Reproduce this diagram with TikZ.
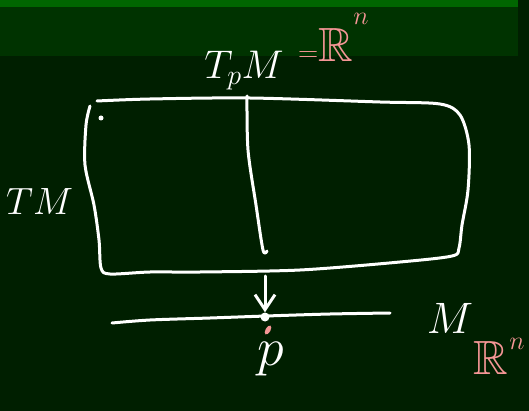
\RequirePackage{fix-cm}
\documentclass[tikz,border=0pt]{standalone}
\usepackage{amssymb}
\usetikzlibrary{arrows.meta,positioning}
\definecolor{boardgreen}{HTML}{001F00}
\definecolor{bargreen}{HTML}{003300}
\definecolor{tabgreen}{HTML}{006600}
\definecolor{chalkpink}{HTML}{F59696}

\begin{document}
\begin{tikzpicture}[
    x=1pt, y=-1pt,
    chalk/.style={draw=white, line width=3pt, line cap=round, line join=round},
    lbl/.style={text=white, inner sep=0pt, font=\fontsize{44}{50}\selectfont},
    pinklbl/.style={lbl, text=chalkpink, font=\fontsize{48}{54}\selectfont},
    explbl/.style={pinklbl, font=\fontsize{26}{30}\selectfont},
    arr/.style={chalk, -{Straight Barb[length=15pt, width=20pt]}},
    dot/.style={circle, fill=white, inner sep=0pt, minimum size=9pt}
]
\useasboundingbox (0,0) rectangle (529,411);

% --- board ---
\fill[boardgreen] (0,0) rectangle (529,411);
\fill[bargreen] (0,7) rectangle (518,56);
\fill[tabgreen] (0,0) rectangle (518,7);

% --- tangent bundle (box) ---
\draw[chalk] plot[smooth, tension=0.5] coordinates {
    (97,101) (150,99) (250,98) (380,102) (440,104) (460,115) (469,145)
    (468,190) (462,225) (459,248) (452,256) (400,262) (300,270) (200,272)
    (150,272) (110,274) (101,268) (99,240) (94,205) (85,165) (86,125) (90,106)};
\fill[white] (101,118) circle[radius=2.5];

% fibre over p
\coordinate (fibtop) at (247,96);
\coordinate (fibbot) at (263,250);
\draw[chalk] plot[smooth] coordinates {(fibtop) (248,150) (256,205) (fibbot) (267,251)};

% --- base manifold ---
\coordinate (mleft) at (112,323);
\coordinate (mright) at (390,313);
\draw[chalk] plot[smooth] coordinates {(mleft) (150,320) (210,318) (266,316) (330,314) (mright)};
\node[dot] (pt) at (265,317) {};
\fill[chalkpink] (268,330) ellipse[x radius=2.5, y radius=5, rotate=-30];

\coordinate (fibfoot) at (265,276);
\draw[arr] (fibfoot) -- (pt);

% labels
\node[lbl, font=\fontsize{38}{44}\selectfont, anchor=west] (tm) at (6,202) {$TM$};
\node[lbl, font=\fontsize{40}{46}\selectfont] (tpm) at (244,71) {$T_pM$};
\node[pinklbl, anchor=base west] (eqr) at (298,62)
    {{\fontsize{28}{30}\selectfont$=$}$\mathbb{R}$};
\node[explbl] (eqexp) at (361,19) {$n$};
\node[lbl] (mlbl) at (450,318) {$M$};
\node[pinklbl] (rlbl) at (491,358) {$\mathbb{R}$};
\node[explbl] (rexp) at (517,344) {$n$};
\node[lbl, font=\fontsize{54}{60}\selectfont, anchor=north] (plbl) at (271,342) {$p$};

\end{tikzpicture}
\end{document}
